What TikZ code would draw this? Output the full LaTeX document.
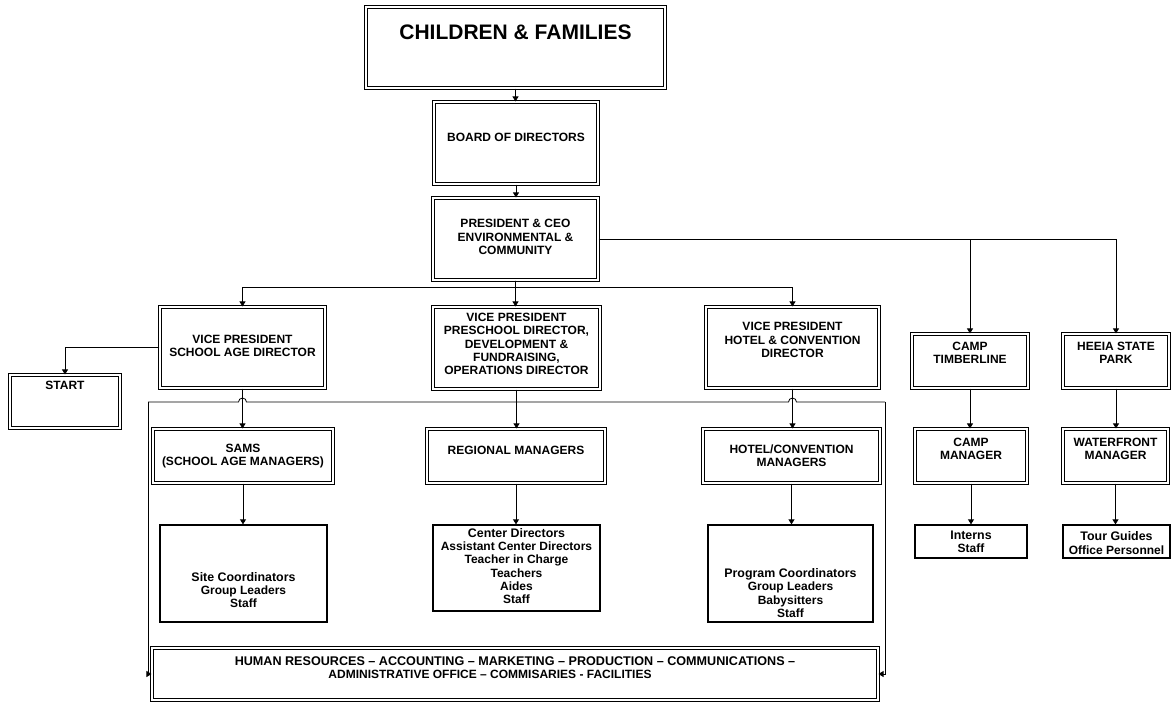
\documentclass[tikz,border=0pt]{standalone}
\usepackage{fontspec}
\setmainfont{Liberation Sans}
\usetikzlibrary{arrows.meta}
\newcommand\ltxtfont{\fontsize{12.4}{13}\selectfont}
% #1 style, #2 name, #3 x1, #4 y1, #5 x2, #6 y2, #7 text centre y, #8 text
\newcommand\orgbox[8]{%
  \node[#1, minimum width={#5-#3}, minimum height={#6-#4}] (#2) at ({(#3+#5)/2},{(#4+#6)/2}) {};
  \node[txt] (#2-t) at ({(#3+#5)/2},#7) {#8};
}
\begin{document}
\begin{tikzpicture}[x=1pt,y=-1pt,
  dbox/.style={draw, line width=1.1pt, double, double distance=1.2pt, inner sep=0pt},
  sbox/.style={draw, line width=1.3pt, inner sep=0pt},
  txt/.style={font=\bfseries\fontsize{12}{13.3}\selectfont, align=center, inner sep=0pt},
  arr/.style={line width=0.8pt, -{Triangle[length=5pt,width=6pt]}},
  ln/.style={line width=0.8pt}]
\useasboundingbox (0,0) rectangle (1171,702);

\orgbox{dbox}{cf}{366}{7}{665}{88}{32}{\fontsize{21}{24}\selectfont CHILDREN \& FAMILIES}
\orgbox{dbox}{bod}{434}{102}{598}{184}{137}{BOARD OF DIRECTORS}
\orgbox{dbox}{pres}{433}{198}{598}{280}{237}{PRESIDENT \& CEO\\ENVIRONMENTAL \&\\COMMUNITY}
\orgbox{dbox}{vps}{160}{307}{325}{388}{346}{VICE PRESIDENT\\SCHOOL AGE DIRECTOR}
\orgbox{dbox}{vpp}{433}{307}{600}{389}{344}{VICE PRESIDENT\\PRESCHOOL DIRECTOR,\\DEVELOPMENT \&\\FUNDRAISING,\\OPERATIONS DIRECTOR}
\orgbox{dbox}{vph}{706}{307}{879}{388}{340}{VICE PRESIDENT\\HOTEL \& CONVENTION\\DIRECTOR}
\orgbox{dbox}{start}{10}{375}{120}{428}{385}{START}
\orgbox{dbox}{camp}{912}{334}{1028}{388}{353}{CAMP\\TIMBERLINE}
\orgbox{dbox}{heeia}{1063}{334}{1169}{388}{353}{HEEIA STATE\\PARK}
\orgbox{dbox}{sams}{153}{429}{333}{483}{456}{SAMS\\(SCHOOL AGE MANAGERS)}
\orgbox{dbox}{reg}{427}{429}{605}{483}{450}{REGIONAL MANAGERS}
\orgbox{dbox}{hcm}{703}{429}{880}{483}{456}{HOTEL/CONVENTION\\MANAGERS}
\orgbox{dbox}{cm}{915}{429}{1027}{483}{449}{CAMP\\MANAGER}
\orgbox{dbox}{wfm}{1063}{429}{1168}{483}{449}{WATERFRONT\\MANAGER}
\orgbox{sbox}{site}{160}{525}{327}{622}{590}{\ltxtfont Site Coordinators\\Group Leaders\\Staff}
\orgbox{sbox}{ctr}{433}{525}{600}{611}{566}{\ltxtfont Center Directors\\Assistant Center Directors\\Teacher in Charge\\Teachers\\Aides\\Staff}
\orgbox{sbox}{prog}{708}{525}{873}{622}{593}{\ltxtfont Program Coordinators\\Group Leaders\\Babysitters\\Staff}
\orgbox{sbox}{intern}{915}{525}{1027}{558}{542}{\ltxtfont Interns\\Staff}
\orgbox{sbox}{tour}{1063}{525}{1170}{558}{543}{\ltxtfont Tour Guides\\Office Personnel}
\orgbox{dbox}{hr}{152}{648}{878}{700}{668}{\fontsize{12.6}{12}\selectfont HUMAN RESOURCES – ACCOUNTING – MARKETING – PRODUCTION – COMMUNICATIONS –\\ADMINISTRATIVE OFFICE – COMMISARIES - FACILITIES\hspace*{50pt}}

% main chain
\draw[arr] (cf.south) -- (cf.south |- bod.north);
\draw[arr] (bod.south) -- (bod.south |- pres.north);
\draw[arr] (pres.south) -- ++(0,7) -| (vps.north);
\draw[arr] (pres.south) -- ++(0,7) -| (vph.north);
\draw[arr] (pres.south) -- (pres.south |- vpp.north);
\draw[arr] (pres.east) -| (heeia.north);
\draw[arr] (pres.east -| camp.north) -- (camp.north);
\draw[arr] (vps.west) -| (start.north);

% second level
\draw[arr] (vps.south) -- (vps.south |- sams.north);
\draw[arr] (vpp.south) -- (vpp.south |- reg.north);
\draw[arr] (vph.south) -- (vph.south |- hcm.north);
\draw[arr] (sams.south) -- (sams.south |- site.north);
\draw[arr] (reg.south) -- (reg.south |- ctr.north);
\draw[arr] (hcm.south) -- (hcm.south |- prog.north);
\draw[arr] (camp.south) -- (camp.south |- cm.north);
\draw[arr] (cm.south) -- (cm.south |- intern.north);
\draw[arr] (heeia.south) -- (heeia.south |- wfm.north);
\draw[arr] (wfm.south) -- (wfm.south |- tour.north);

% support bracket with line hops
\coordinate (bl) at (148,402);
\coordinate (br) at (885,402);
\draw[ln] (bl) -- (238.5,402) arc[start angle=180,end angle=360,radius=4]
  -- (788.5,402) arc[start angle=180,end angle=360,radius=4] -- (br);
\draw[arr] (bl) |- (hr.west);
\draw[arr] (br) |- (hr.east);
\end{tikzpicture}
\end{document}
